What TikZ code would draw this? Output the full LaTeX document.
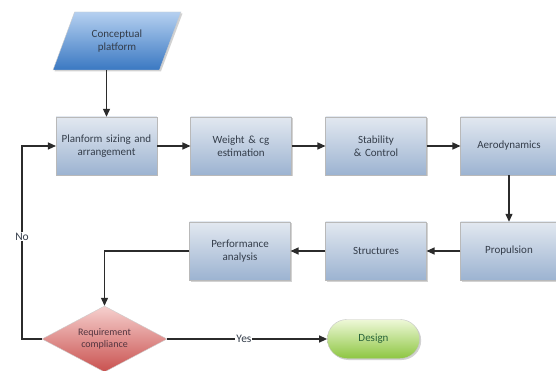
\documentclass[tikz,border=0pt]{standalone}
\usepackage{fontspec}
\setmainfont{Carlito}
\usetikzlibrary{arrows.meta,shapes.geometric,shapes.misc,shadows}
\definecolor{Ink}{HTML}{343D4A}
\definecolor{Line}{HTML}{2B2B2B}
\definecolor{BoxTop}{HTML}{E2E8F0}
\definecolor{BoxBot}{HTML}{9CB3D1}
\definecolor{DataTop}{HTML}{B5D0F0}
\definecolor{DataBot}{HTML}{3A78C2}
\definecolor{DecTop}{HTML}{F6D0CE}
\definecolor{DecBot}{HTML}{C9514F}
\definecolor{TermTop}{HTML}{EEF8D8}
\definecolor{TermBot}{HTML}{8DC641}

\tikzset{
  proc/.style={rectangle,draw=gray!55,top color=BoxTop,bottom color=BoxBot,
    minimum width=97pt,minimum height=58pt,text width=94pt,align=center,
    text=Ink,font=\fontsize{11}{13}\selectfont,
    drop shadow={shadow xshift=1.5pt,shadow yshift=-1.5pt,opacity=0.35}},
  datain/.style={trapezium,trapezium left angle=63.4,trapezium right angle=116.6,
    draw=gray!40,top color=DataTop,bottom color=DataBot,
    minimum width=129pt,minimum height=58pt,trapezium stretches=true,
    align=center,text=Ink,font=\fontsize{11}{13}\selectfont,
    drop shadow={shadow xshift=1.5pt,shadow yshift=-1.5pt,opacity=0.35}},
  decide/.style={diamond,aspect=1.8,draw=gray!40,top color=DecTop,bottom color=DecBot,
    minimum width=125pt,minimum height=66pt,inner sep=0pt,align=center,
    text=Ink!85!red,font=\fontsize{10}{12}\selectfont},
  term/.style={rounded rectangle,draw=gray!45,top color=TermTop,bottom color=TermBot,
    minimum width=99pt,minimum height=39pt,text=Ink!80!green,
    font=\fontsize{11}{13}\selectfont,
    drop shadow={shadow xshift=1.5pt,shadow yshift=-1.5pt,opacity=0.35}},
  arr/.style={-{Triangle[length=8pt,width=7pt]},draw=Line,line width=1.2pt},
  lbl/.style={fill=white,inner sep=1pt,text=Ink,font=\fontsize{11.5}{13}\selectfont}
}

\begin{document}
\begin{tikzpicture}[x=1pt,y=-1pt]
  \useasboundingbox[fill=white] (0,0) rectangle (556,371);

  % upper row
  \node[datain] (plat) at (117,41) {Conceptual\\platform};
  \node[proc] (plan) at (106.5,146) {Planform sizing and\\arrangement};
  \node[proc] (weight) at (241,146) {Weight \& cg\\estimation};
  \node[proc] (stab) at (376,146) {Stability\\\& Control};
  \node[proc,minimum width=94pt,text width=90pt] (aero) at (509,146) {Aerodynamics};

  % lower row
  \node[proc,minimum width=94pt,text width=90pt] (prop) at (509,251) {Propulsion};
  \node[proc] (struct) at (376,251) {Structures};
  \node[proc] (perf) at (240,251) {Performance\\analysis};

  % bottom
  \node[decide] (req) at (104.5,339) {Requirement\\compliance};
  \node[term] (design) at (373.5,339) {Design};
  \coordinate (nobend) at (22,0);

  \draw[arr] (plan.north |- plat.south) -- (plan.north);
  \draw[arr] (plan) -- (weight);
  \draw[arr] (weight) -- (stab);
  \draw[arr] (stab) -- (aero);
  \draw[arr] (aero) -- (prop);
  \draw[arr] (prop) -- (struct);
  \draw[arr] (struct) -- (perf);
  \draw[arr] (perf.west) -| (req.north);
  \draw[arr] (req.west) -- (req.west -| nobend)
    -- node[lbl,pos=0.53] {No} (nobend |- plan.west) -- (plan.west);
  \draw[arr] (req.east) -- node[lbl,pos=0.48] {Yes} (design.west);
\end{tikzpicture}
\end{document}
